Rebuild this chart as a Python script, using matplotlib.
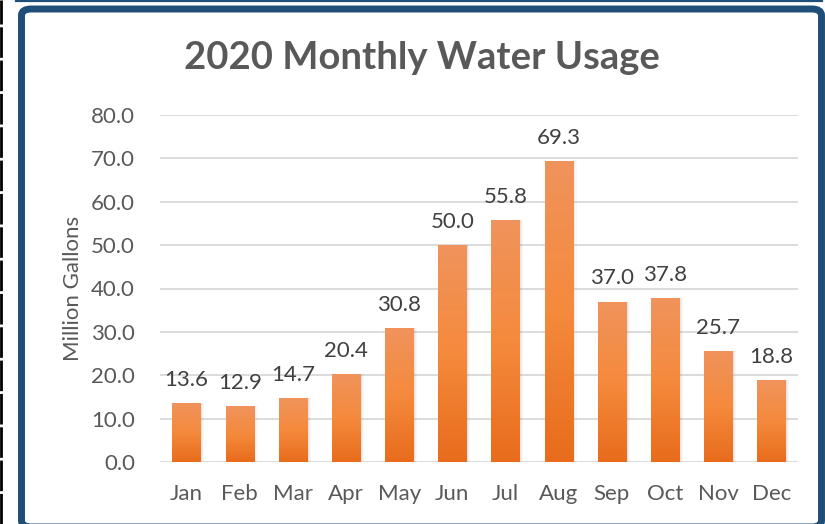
import numpy as np
import matplotlib
matplotlib.use("Agg")
import matplotlib.pyplot as plt
from matplotlib.patches import FancyBboxPatch
from matplotlib.lines import Line2D
from matplotlib.colors import LinearSegmentedColormap

months = ["Jan", "Feb", "Mar", "Apr", "May", "Jun", "Jul", "Aug", "Sep", "Oct", "Nov", "Dec"]
usage = [13.6, 12.9, 14.7, 20.4, 30.8, 50.0, 55.8, 69.3, 37.0, 37.8, 25.7, 18.8]
yticks = [0, 10, 20, 30, 40, 50, 60, 70, 80]

W, H = 825, 524
plt.rcParams["font.family"] = ["Lato", "DejaVu Sans"]
fig = plt.figure(figsize=(W / 100, H / 100), dpi=100)

# outer decorations: rule at left, thin rule at top, rounded blue frame
fig.add_artist(Line2D([1.2 / W, 1.2 / W], [0, 1], color="black", lw=2.0,
                      linestyle=(0, (11, 1.0)), transform=fig.transFigure))
fig.add_artist(Line2D([16 / W, 822 / W], [1 - 1 / H, 1 - 1 / H], color="#1f4e79",
                      lw=1.6, transform=fig.transFigure))
frame = FancyBboxPatch((21.5 / W, -3 / H), 800 / W, 518 / H,
                       boxstyle="round,pad=0,rounding_size=0.012",
                       transform=fig.transFigure, facecolor="white",
                       edgecolor="#1f4e79", lw=5.0, zorder=0)
fig.add_artist(frame)

ax = fig.add_axes([160 / W, 1 - 462 / H, 638 / W, (462 - 115) / H])
ax.set_facecolor("none")
x = np.arange(len(months))
width = 0.53

# soft shadow behind each bar
for dx, a in [(0.07, 0.05), (0.05, 0.07), (0.03, 0.09)]:
    ax.bar(x + dx, usage, width=width, color="#7f7f7f", alpha=a, zorder=2,
           linewidth=0)

bars = ax.bar(x, usage, width=width, color="none", linewidth=0, zorder=3)
cmap = LinearSegmentedColormap.from_list("orange_grad", ["#e86c1c", "#f58a3c", "#f0935c"])
grad = np.linspace(0, 1, 256).reshape(-1, 1)
for b, v in zip(bars, usage):
    im = ax.imshow(grad, cmap=cmap, origin="lower", aspect="auto",
                   extent=(b.get_x(), b.get_x() + b.get_width(), 0, v), zorder=3)
    im.set_clip_path(b)

for xi, v in zip(x, usage):
    ax.text(xi, v + 3.0, f"{v:.1f}", ha="center", va="bottom",
            fontsize=16, color="#404040", zorder=4)

ax.set_xlim(-0.5, len(months) - 0.5)
ax.set_ylim(0, 80)
ax.set_yticks(yticks)
ax.set_yticklabels([f"{t:.1f}" for t in yticks])
ax.set_xticks(x)
ax.set_xticklabels(months)
ax.tick_params(axis="both", length=0, labelsize=16, labelcolor="#595959")
ax.tick_params(axis="x", pad=16)
ax.tick_params(axis="y", pad=18)
ax.grid(axis="y", color="#d9d9d9", lw=1.3, zorder=0)
ax.set_axisbelow(True)
for s in ax.spines.values():
    s.set_visible(False)

ax.set_ylabel("Million Gallons", fontsize=16, color="#595959", labelpad=6)
fig.text(422 / W, 1 - 58 / H, "2020 Monthly Water Usage", ha="center", va="center",
         fontsize=27.5, fontweight="bold", color="#595959")

fig.savefig("out.png", dpi=100)
